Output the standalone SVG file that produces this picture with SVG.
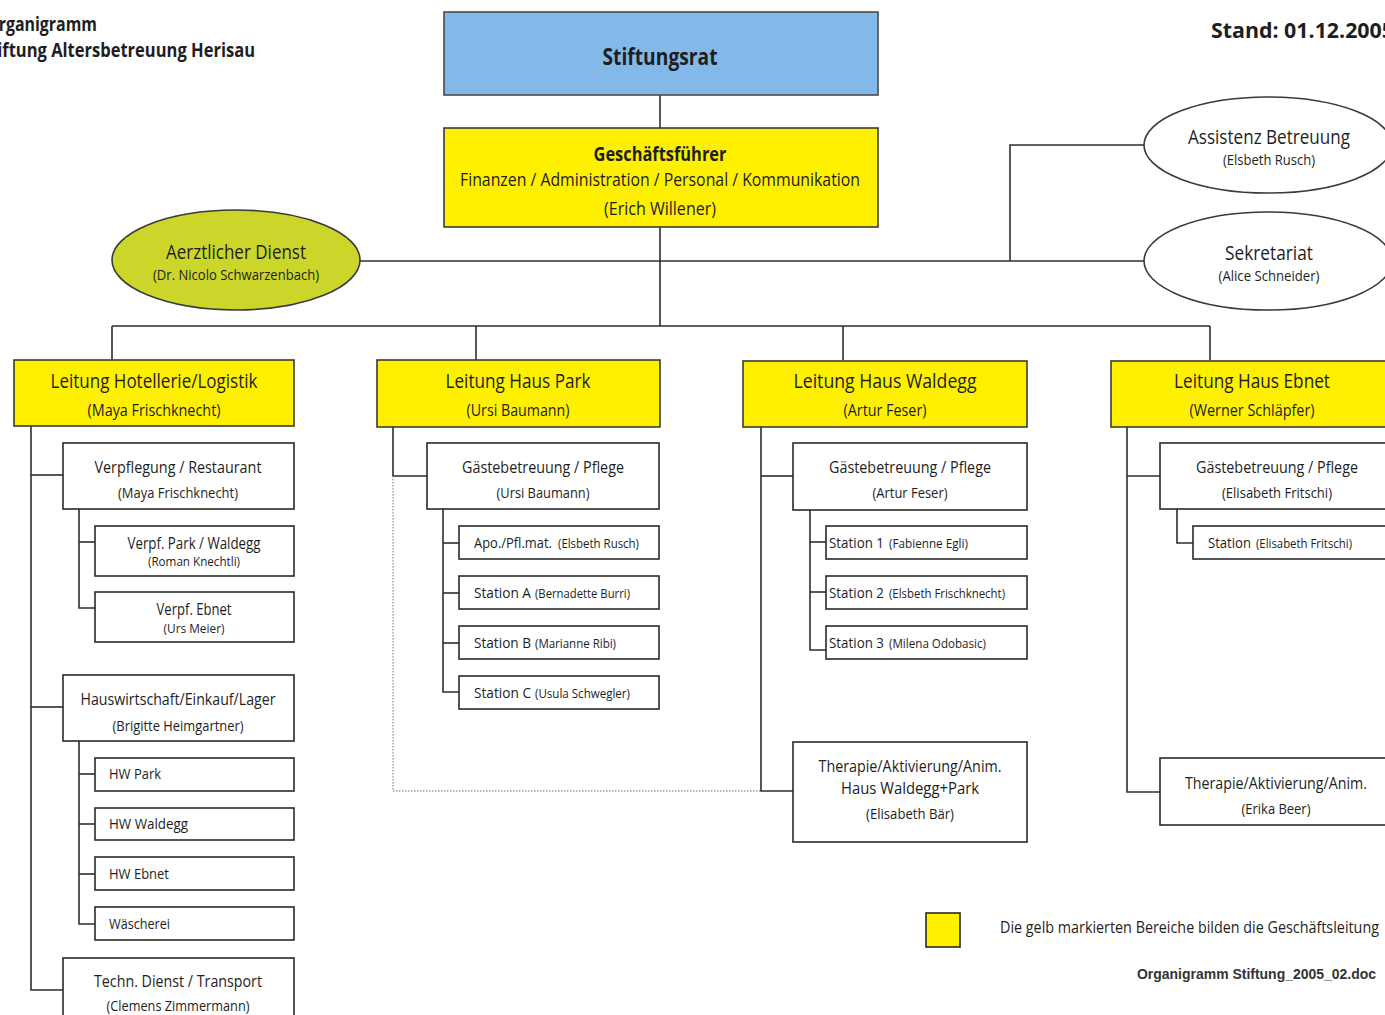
<svg xmlns="http://www.w3.org/2000/svg" width="1385" height="1015" viewBox="0 0 1385 1015">
<style>
text{font-family:"Liberation Sans Narrow","Open Sans","Liberation Sans",sans-serif;fill:#1e1e1e;text-anchor:middle}
.l{text-anchor:start}
.b{font-weight:bold}
.box{fill:#fff;stroke:#2a2a2a;stroke-width:1.6}
.yel{fill:#fff000;stroke:#3a3a3a;stroke-width:1.6}
.blue{fill:#82b9e9;stroke:#4a4a4a;stroke-width:1.6}
.ell{fill:#fff;stroke:#3a3a3a;stroke-width:1.6}
.grn{fill:#ccd62a;stroke:#3a3a3a;stroke-width:1.6}
.c line,.c path{stroke:#2e2e2e;stroke-width:1.6;fill:none}
.c .dot{stroke:#9a9a9a;stroke-width:1.4;stroke-dasharray:1.5 1.5}
.t20{font-size:20px}.t17{font-size:17px}.t16{font-size:16px}.t15{font-size:15px}.t14{font-size:14px}.t13{font-size:13px}
</style>
<rect width="1385" height="1015" fill="#fff"/>

<g id="title">
<text class="l b t20" x="-14" y="31" textLength="111" lengthAdjust="spacingAndGlyphs">Organigramm</text>
<text class="l b t20" x="-19" y="57" textLength="274" lengthAdjust="spacingAndGlyphs">Stiftung Altersbetreuung Herisau</text>
<text class="l b" style="font-size:22px" x="1211" y="38" textLength="183" lengthAdjust="spacingAndGlyphs">Stand: 01.12.2005</text>
</g>

<g class="c" id="connectors">
<line x1="660" y1="95" x2="660" y2="326"/>
<line x1="360" y1="261" x2="1145" y2="261"/>
<path d="M1010 261V145H1145"/>
<line x1="112" y1="326" x2="1210" y2="326"/>
<line x1="112" y1="326" x2="112" y2="360"/>
<line x1="476" y1="326" x2="476" y2="360"/>
<line x1="843" y1="326" x2="843" y2="360"/>
<line x1="1210" y1="326" x2="1210" y2="360"/>
<path d="M31 426V990H63"/>
<line x1="31" y1="475" x2="63" y2="475"/>
<line x1="31" y1="707" x2="63" y2="707"/>
<path d="M79 509V608H95"/>
<line x1="79" y1="542" x2="95" y2="542"/>
<path d="M79 741V924H95"/>
<line x1="79" y1="774" x2="95" y2="774"/>
<line x1="79" y1="824" x2="95" y2="824"/>
<line x1="79" y1="874" x2="95" y2="874"/>
<path d="M393 427V476H427"/>
<path class="dot" d="M393 476V791H761"/>
<path d="M443 509V692H459"/>
<line x1="443" y1="543" x2="459" y2="543"/>
<line x1="443" y1="593" x2="459" y2="593"/>
<line x1="443" y1="643" x2="459" y2="643"/>
<path d="M761 427V791H793"/>
<line x1="761" y1="476" x2="793" y2="476"/>
<path d="M810 510V650H826"/>
<line x1="810" y1="542" x2="826" y2="542"/>
<line x1="810" y1="592" x2="826" y2="592"/>
<path d="M1127 427V792H1160"/>
<line x1="1127" y1="476" x2="1160" y2="476"/>
<path d="M1177 509V543H1193"/>
</g>

<g id="stiftungsrat"><rect class="blue" x="444" y="12" width="434" height="83"/>
<text class="b" style="font-size:24px" x="660" y="65" textLength="115" lengthAdjust="spacingAndGlyphs">Stiftungsrat</text></g>

<g id="geschaeftsfuehrer"><rect class="yel" x="444" y="128" width="434" height="99"/>
<text class="b t20" x="660" y="161" textLength="133" lengthAdjust="spacingAndGlyphs">Geschäftsführer</text>
<text style="font-size:19px" x="660" y="186" textLength="400" lengthAdjust="spacingAndGlyphs">Finanzen / Administration / Personal / Kommunikation</text>
<text style="font-size:19px" x="660" y="215" textLength="112" lengthAdjust="spacingAndGlyphs">(Erich Willener)</text></g>

<g id="aerztlicher-dienst"><ellipse class="grn" cx="236" cy="260" rx="124" ry="50"/>
<text class="t20" x="236" y="259" textLength="140" lengthAdjust="spacingAndGlyphs">Aerztlicher Dienst</text>
<text class="t15" x="236" y="280" textLength="166" lengthAdjust="spacingAndGlyphs">(Dr. Nicolo Schwarzenbach)</text></g>

<g id="assistenz"><ellipse class="ell" cx="1268" cy="145" rx="124" ry="48"/>
<text class="t20" x="1269" y="144" textLength="162" lengthAdjust="spacingAndGlyphs">Assistenz Betreuung</text>
<text class="t14" x="1269" y="165" textLength="92" lengthAdjust="spacingAndGlyphs">(Elsbeth Rusch)</text></g>

<g id="sekretariat"><ellipse class="ell" cx="1268" cy="261" rx="124" ry="49"/>
<text class="t20" x="1269" y="260" textLength="88" lengthAdjust="spacingAndGlyphs">Sekretariat</text>
<text class="t15" x="1269" y="281" textLength="101" lengthAdjust="spacingAndGlyphs">(Alice Schneider)</text></g>

<g id="leitung-hotellerie"><rect class="yel" x="14" y="360" width="280" height="66"/>
<text class="t20" x="154" y="388" textLength="207" lengthAdjust="spacingAndGlyphs">Leitung Hotellerie/Logistik</text>
<text class="t16" x="154" y="416" textLength="133" lengthAdjust="spacingAndGlyphs">(Maya Frischknecht)</text></g>

<g id="leitung-park"><rect class="yel" x="377" y="360" width="283" height="67"/>
<text class="t20" x="518" y="388" textLength="145" lengthAdjust="spacingAndGlyphs">Leitung Haus Park</text>
<text class="t16" x="518" y="416" textLength="103" lengthAdjust="spacingAndGlyphs">(Ursi Baumann)</text></g>

<g id="leitung-waldegg"><rect class="yel" x="743" y="361" width="284" height="66"/>
<text class="t20" x="885" y="388" textLength="183" lengthAdjust="spacingAndGlyphs">Leitung Haus Waldegg</text>
<text class="t16" x="885" y="416" textLength="83" lengthAdjust="spacingAndGlyphs">(Artur Feser)</text></g>

<g id="leitung-ebnet"><rect class="yel" x="1111" y="361" width="290" height="66"/>
<text class="t20" x="1252" y="388" textLength="156" lengthAdjust="spacingAndGlyphs">Leitung Haus Ebnet</text>
<text class="t16" x="1252" y="416" textLength="125" lengthAdjust="spacingAndGlyphs">(Werner Schläpfer)</text></g>

<g id="verpflegung"><rect class="box" x="63" y="443" width="231" height="66"/>
<text class="t17" x="178" y="473" textLength="167" lengthAdjust="spacingAndGlyphs">Verpflegung / Restaurant</text>
<text class="t15" x="178" y="498" textLength="120" lengthAdjust="spacingAndGlyphs">(Maya Frischknecht)</text></g>

<g id="verpf-park"><rect class="box" x="95" y="526" width="199" height="50"/>
<text class="t16" x="194" y="549" textLength="133" lengthAdjust="spacingAndGlyphs">Verpf. Park / Waldegg</text>
<text class="t13" x="194" y="566" textLength="92" lengthAdjust="spacingAndGlyphs">(Roman Knechtli)</text></g>

<g id="verpf-ebnet"><rect class="box" x="95" y="592" width="199" height="50"/>
<text class="t16" x="194" y="615" textLength="75" lengthAdjust="spacingAndGlyphs">Verpf. Ebnet</text>
<text class="t13" x="194" y="633" textLength="61" lengthAdjust="spacingAndGlyphs">(Urs Meier)</text></g>

<g id="hauswirtschaft"><rect class="box" x="63" y="675" width="231" height="66"/>
<text class="t17" x="178" y="705" textLength="195" lengthAdjust="spacingAndGlyphs">Hauswirtschaft/Einkauf/Lager</text>
<text class="t15" x="178" y="731" textLength="131" lengthAdjust="spacingAndGlyphs">(Brigitte Heimgartner)</text></g>

<g id="hw-park"><rect class="box" x="95" y="758" width="199" height="33"/>
<text class="l t15" x="109" y="779" textLength="52" lengthAdjust="spacingAndGlyphs">HW Park</text></g>
<g id="hw-waldegg"><rect class="box" x="95" y="808" width="199" height="32"/>
<text class="l t15" x="109" y="829" textLength="79" lengthAdjust="spacingAndGlyphs">HW Waldegg</text></g>
<g id="hw-ebnet"><rect class="box" x="95" y="857" width="199" height="33"/>
<text class="l t15" x="109" y="879" textLength="60" lengthAdjust="spacingAndGlyphs">HW Ebnet</text></g>
<g id="waescherei"><rect class="box" x="95" y="907" width="199" height="33"/>
<text class="l t15" x="109" y="929" textLength="61" lengthAdjust="spacingAndGlyphs">Wäscherei</text></g>

<g id="techn-dienst"><rect class="box" x="63" y="958" width="231" height="70"/>
<text class="t17" x="178" y="987" textLength="168" lengthAdjust="spacingAndGlyphs">Techn. Dienst / Transport</text>
<text class="t15" x="178" y="1011" textLength="143" lengthAdjust="spacingAndGlyphs">(Clemens Zimmermann)</text></g>

<g id="park-gaeste"><rect class="box" x="427" y="443" width="232" height="66"/>
<text class="t17" x="543" y="473" textLength="162" lengthAdjust="spacingAndGlyphs">Gästebetreuung / Pflege</text>
<text class="t15" x="543" y="498" textLength="93" lengthAdjust="spacingAndGlyphs">(Ursi Baumann)</text></g>
<g id="park-apo"><rect class="box" x="459" y="526" width="200" height="33"/>
<text class="l t15" x="474" y="548" textLength="78" lengthAdjust="spacingAndGlyphs">Apo./Pfl.mat.</text>
<text class="l t13" x="558" y="548" textLength="81" lengthAdjust="spacingAndGlyphs">(Elsbeth Rusch)</text></g>
<g id="park-station-a"><rect class="box" x="459" y="576" width="200" height="33"/>
<text class="l t15" x="474" y="598" textLength="57" lengthAdjust="spacingAndGlyphs">Station A</text>
<text class="l t13" x="535" y="598" textLength="95" lengthAdjust="spacingAndGlyphs">(Bernadette Burri)</text></g>
<g id="park-station-b"><rect class="box" x="459" y="626" width="200" height="33"/>
<text class="l t15" x="474" y="648" textLength="57" lengthAdjust="spacingAndGlyphs">Station B</text>
<text class="l t13" x="535" y="648" textLength="81" lengthAdjust="spacingAndGlyphs">(Marianne Ribi)</text></g>
<g id="park-station-c"><rect class="box" x="459" y="676" width="200" height="33"/>
<text class="l t15" x="474" y="698" textLength="57" lengthAdjust="spacingAndGlyphs">Station C</text>
<text class="l t13" x="535" y="698" textLength="95" lengthAdjust="spacingAndGlyphs">(Usula Schwegler)</text></g>

<g id="waldegg-gaeste"><rect class="box" x="793" y="443" width="234" height="67"/>
<text class="t17" x="910" y="473" textLength="162" lengthAdjust="spacingAndGlyphs">Gästebetreuung / Pflege</text>
<text class="t15" x="910" y="498" textLength="75" lengthAdjust="spacingAndGlyphs">(Artur Feser)</text></g>
<g id="waldegg-station-1"><rect class="box" x="826" y="526" width="201" height="33"/>
<text class="l t15" x="829" y="548" textLength="55" lengthAdjust="spacingAndGlyphs">Station 1</text>
<text class="l t13" x="889" y="548" textLength="79" lengthAdjust="spacingAndGlyphs">(Fabienne Egli)</text></g>
<g id="waldegg-station-2"><rect class="box" x="826" y="576" width="201" height="33"/>
<text class="l t15" x="829" y="598" textLength="55" lengthAdjust="spacingAndGlyphs">Station 2</text>
<text class="l t13" x="889" y="598" textLength="116" lengthAdjust="spacingAndGlyphs">(Elsbeth Frischknecht)</text></g>
<g id="waldegg-station-3"><rect class="box" x="826" y="626" width="201" height="33"/>
<text class="l t15" x="829" y="648" textLength="55" lengthAdjust="spacingAndGlyphs">Station 3</text>
<text class="l t13" x="889" y="648" textLength="97" lengthAdjust="spacingAndGlyphs">(Milena Odobasic)</text></g>
<g id="waldegg-therapie"><rect class="box" x="793" y="742" width="234" height="100"/>
<text class="t17" x="910" y="772" textLength="183" lengthAdjust="spacingAndGlyphs">Therapie/Aktivierung/Anim.</text>
<text class="t17" x="910" y="794" textLength="138" lengthAdjust="spacingAndGlyphs">Haus Waldegg+Park</text>
<text class="t15" x="910" y="819" textLength="88" lengthAdjust="spacingAndGlyphs">(Elisabeth Bär)</text></g>

<g id="ebnet-gaeste"><rect class="box" x="1160" y="443" width="240" height="66"/>
<text class="t17" x="1277" y="473" textLength="162" lengthAdjust="spacingAndGlyphs">Gästebetreuung / Pflege</text>
<text class="t15" x="1277" y="498" textLength="110" lengthAdjust="spacingAndGlyphs">(Elisabeth Fritschi)</text></g>
<g id="ebnet-station"><rect class="box" x="1193" y="526" width="207" height="33"/>
<text class="l t15" x="1208" y="548" textLength="43" lengthAdjust="spacingAndGlyphs">Station</text>
<text class="l t13" x="1256" y="548" textLength="96" lengthAdjust="spacingAndGlyphs">(Elisabeth Fritschi)</text></g>
<g id="ebnet-therapie"><rect class="box" x="1160" y="758" width="240" height="67"/>
<text class="t17" x="1276" y="789" textLength="182" lengthAdjust="spacingAndGlyphs">Therapie/Aktivierung/Anim.</text>
<text class="t15" x="1276" y="814" textLength="69" lengthAdjust="spacingAndGlyphs">(Erika Beer)</text></g>

<g id="legend">
<rect x="926" y="913" width="34" height="34" fill="#fff000" stroke="#2a2a2a" stroke-width="1.6"/>
<text class="l t17" x="1000" y="933" textLength="379" lengthAdjust="spacingAndGlyphs">Die gelb markierten Bereiche bilden die Geschäftsleitung</text>
<text class="l" style="font-family:'Liberation Sans',Arial,sans-serif;font-size:14px;font-weight:bold;fill:#333" x="1137" y="979" textLength="239" lengthAdjust="spacingAndGlyphs">Organigramm Stiftung_2005_02.doc</text>
</g>
</svg>
